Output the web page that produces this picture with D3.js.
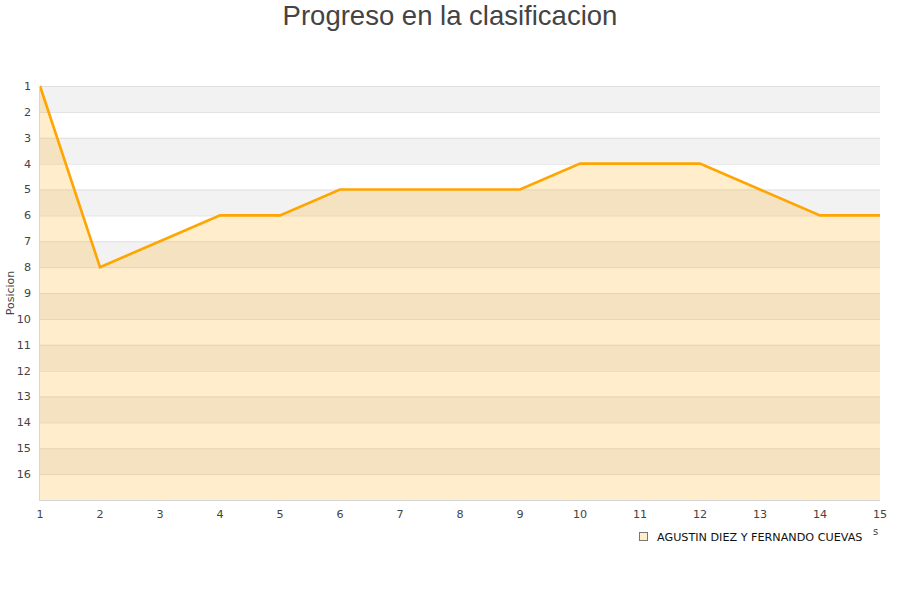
<!DOCTYPE html>
<html><head><meta charset="utf-8">
<script src="https://cdn.jsdelivr.net/npm/d3@7"></script>
<style>body{margin:0;background:#fff}svg{display:block}</style>
</head><body><svg id="c" width="900" height="600"></svg>
<script>
const jornadas = [1,2,3,4,5,6,7,8,9,10,11,12,13,14,15];
const posiciones = [1,8,7,6,6,5,5,5,5,4,4,4,5,6,6];
const yTicks = [1,2,3,4,5,6,7,8,9,10,11,12,13,14,15,16];
const teamName = "AGUSTIN DIEZ Y FERNANDO CUEVAS";
const title = "Progreso en la clasificacion";
const yTitle = "Posicion";

const svg = d3.select("#c");
const L=40,R=880,T=86,B=500;
const x = d3.scaleLinear().domain([1,15]).range([L,R]);
const y = d3.scaleLinear().domain([1,17]).range([T,B]);

const bands = d3.range(1,17);
svg.append("g").selectAll("rect").data(bands).join("rect")
  .attr("x",L).attr("width",R-L)
  .attr("y",d=>y(d)).attr("height",d=>y(d+1)-y(d))
  .attr("fill",d=>d%2===1?"#f2f2f2":"#ffffff");

svg.append("g").selectAll("line").data(d3.range(1,18)).join("line")
  .attr("x1",L).attr("x2",R).attr("y1",d=>y(d)+0.5).attr("y2",d=>y(d)+0.5)
  .attr("stroke","#e0e0e0").attr("stroke-width",1);

const data = jornadas.map((j,i)=>[j,posiciones[i]]);
svg.append("path").datum(data)
  .attr("d",d3.area().x(d=>x(d[0])).y0(y(17)).y1(d=>y(d[1])))
  .attr("fill","rgba(255,165,0,0.2)");
svg.append("path").datum(data)
  .attr("d",d3.line().x(d=>x(d[0])).y(d=>y(d[1])))
  .attr("fill","none").attr("stroke","#ffa500").attr("stroke-width",2.6).attr("stroke-linejoin","miter");

// axes lines
svg.append("line").attr("x1",L-0.5).attr("x2",L-0.5).attr("y1",T).attr("y2",B+1).attr("stroke","#d6d6d6");
svg.append("line").attr("x1",L).attr("x2",R).attr("y1",B+0.5).attr("y2",B+0.5).attr("stroke","#d6d6d6");

const font = "DejaVu Sans, sans-serif";
svg.append("g").selectAll("text").data(yTicks).join("text")
  .attr("x",31).attr("y",d=>y(d)).attr("dy","0.35em").attr("text-anchor","end")
  .attr("font-family",font).attr("font-size",11.2).attr("fill","#444").text(d=>d);
svg.append("g").selectAll("text").data(jornadas).join("text")
  .attr("x",d=>x(d)).attr("y",514).attr("dy","0.35em").attr("text-anchor","middle")
  .attr("font-family",font).attr("font-size",11.2).attr("fill","#444").text(d=>d);

svg.append("text").attr("transform","translate(14,293) rotate(-90)").attr("text-anchor","middle")
  .attr("font-family",font).attr("font-size",11).attr("fill","#444").text(yTitle);

svg.append("text").attr("x",450).attr("y",25).attr("text-anchor","middle")
  .attr("font-family","Liberation Sans, Arial, sans-serif").attr("font-size",27.5).attr("fill","#444").text(title);

// legend
svg.append("rect").attr("x",639.5).attr("y",532.5).attr("width",8).attr("height",8)
  .attr("fill","#ffedcc").attr("stroke","#777");
svg.append("text").attr("x",657).attr("y",537).attr("dy","0.35em")
  .attr("font-family",font).attr("font-size",11.2).attr("fill","#111").text(teamName);
svg.append("text").attr("x",873).attr("y",531).attr("dy","0.35em")
  .attr("font-family",font).attr("font-size",10).attr("fill","#444").text("s");
</script></body></html>
